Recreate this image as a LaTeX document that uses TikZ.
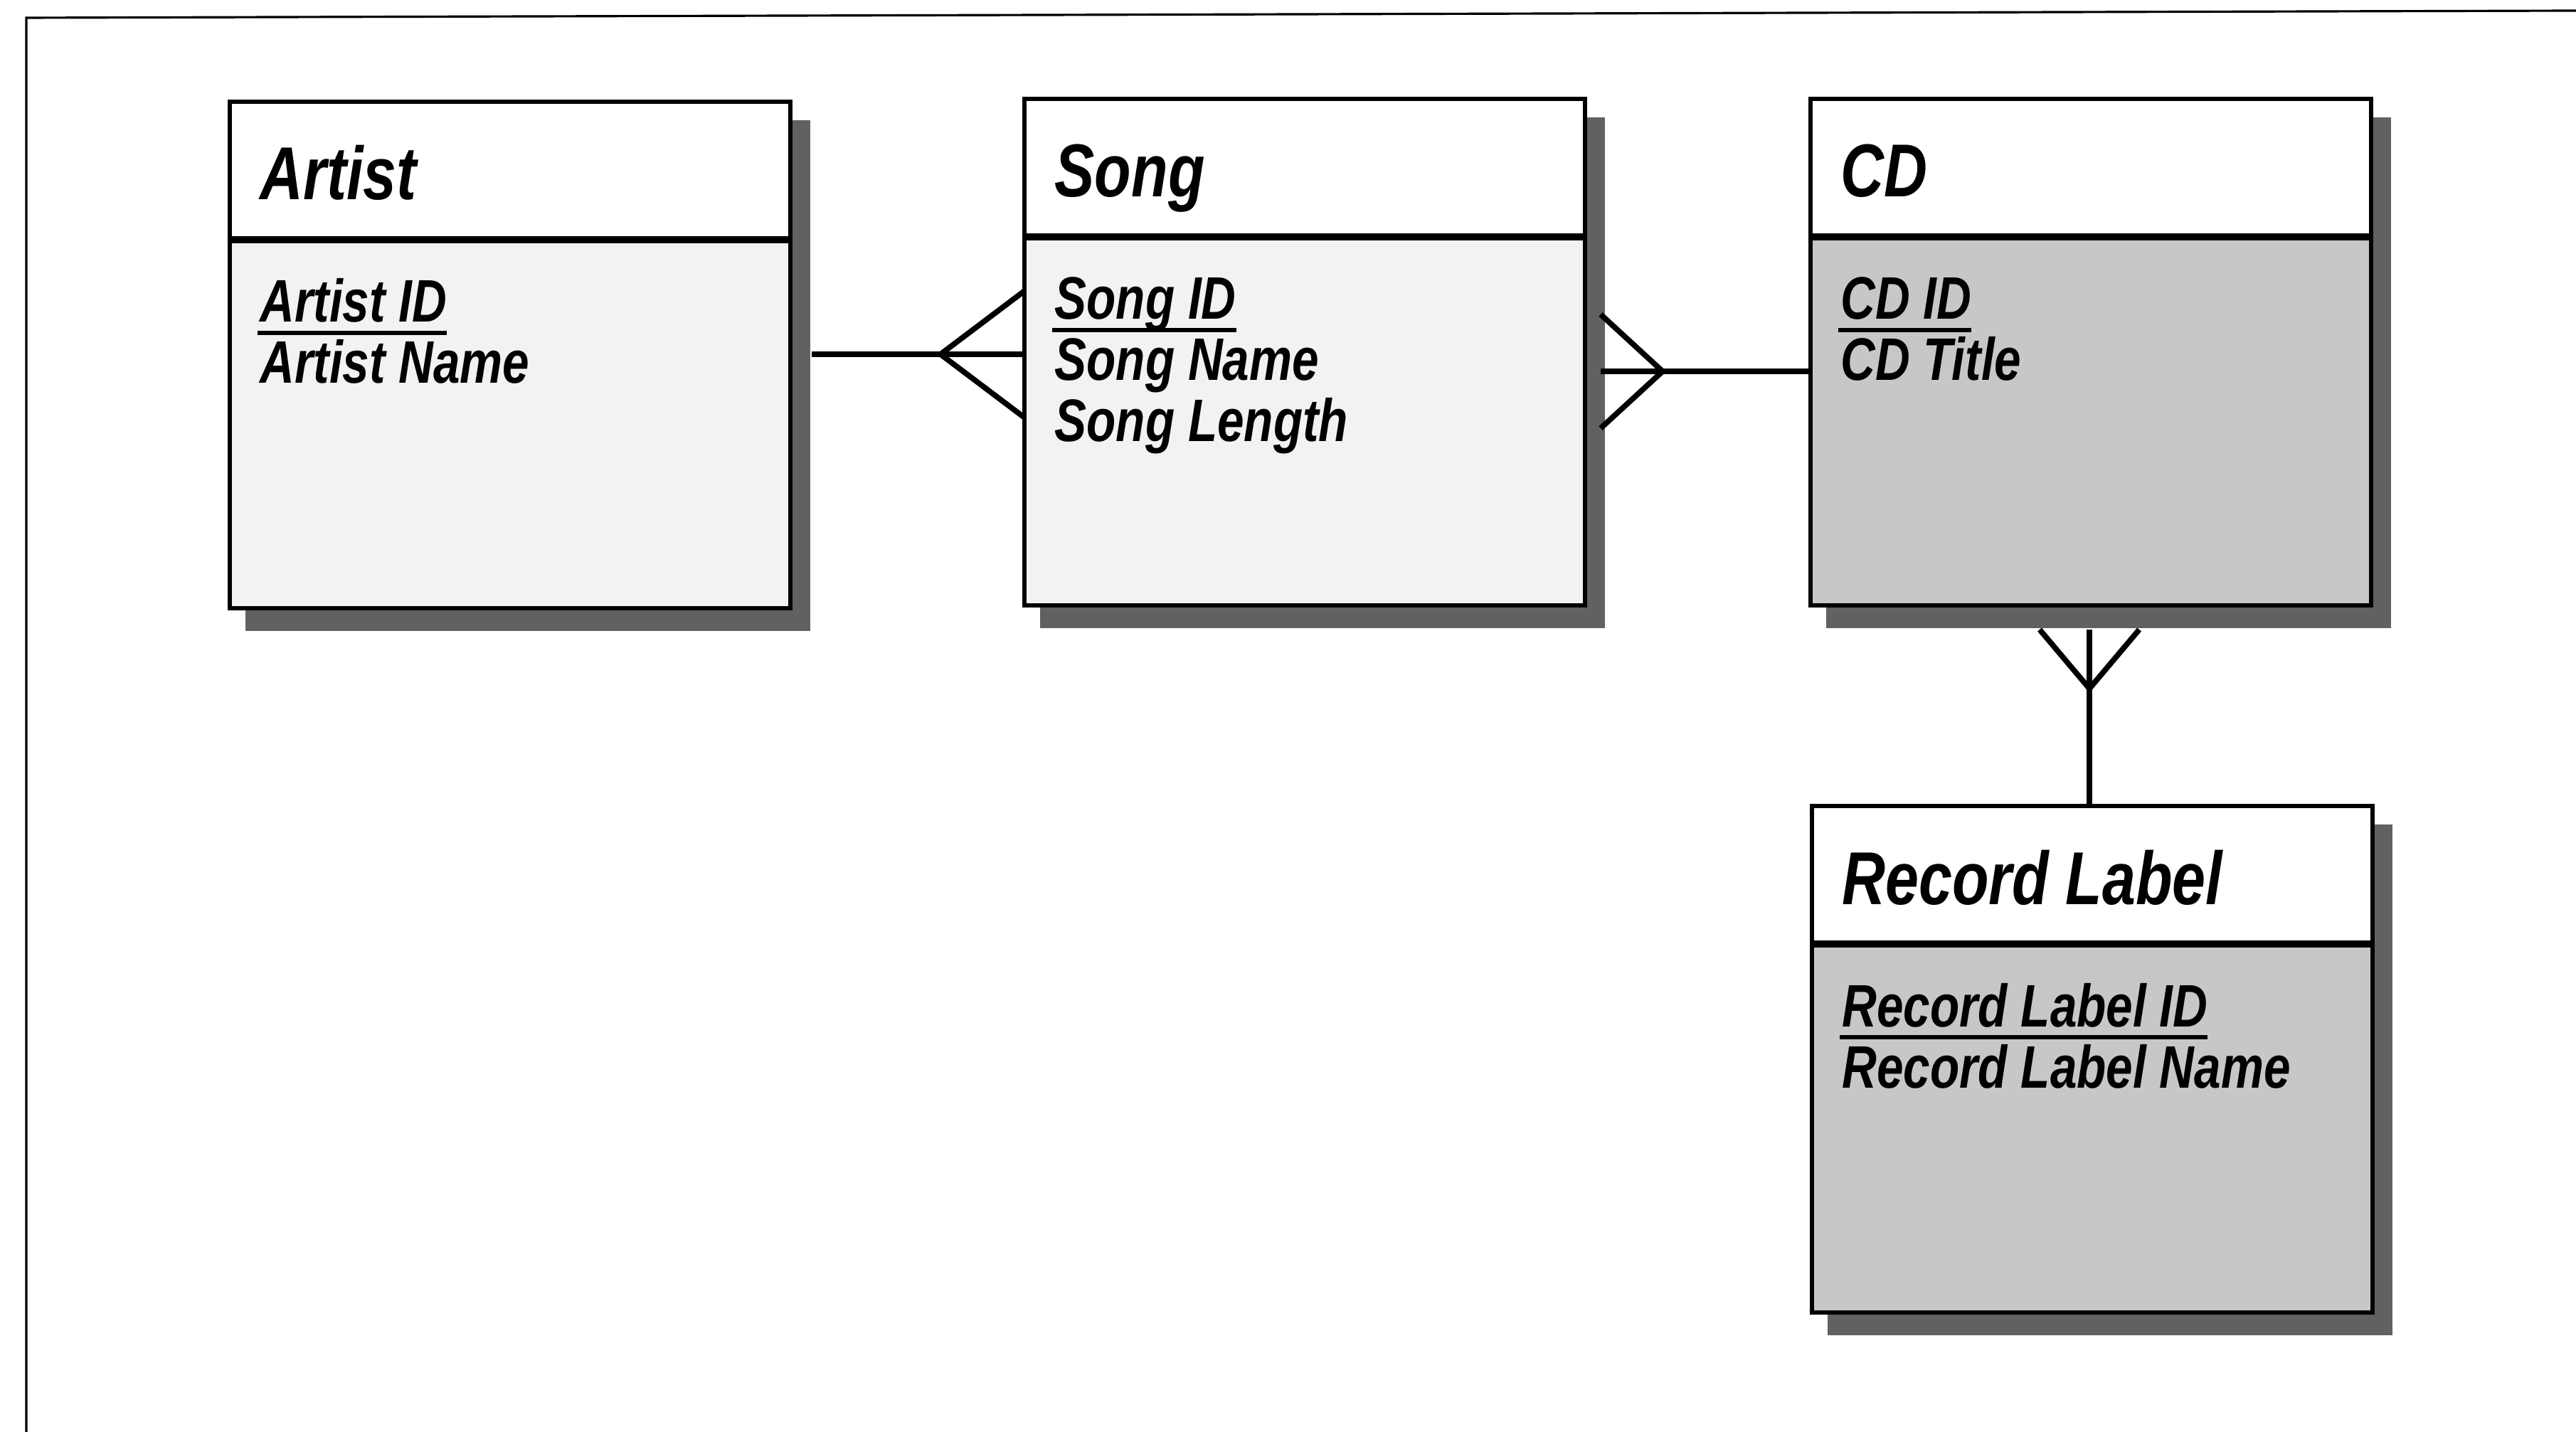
\documentclass[tikz,border=0pt]{standalone}
\usepackage{fontspec}
\setmainfont{Liberation Sans}[FakeStretch=0.8]
\usetikzlibrary{calc}

% primary key: text with a heavy underline
\newcommand{\pkey}[1]{\setbox0=\hbox{#1}\rlap{\kern-1pt\rule[-5pt]{\dimexpr\wd0+1pt\relax}{1.6pt}}\box0}

% entity box: #1 name, #2 x, #3 y (top), #4 body fill, #5 title, #6 attributes
\newcommand{\erbox}[6]{%
  \fill[shadow] ({#2+0.22},{#3-0.26}) rectangle ({#2+7.88+0.28},{#3-7.12-0.32});
  \node[entitybox, fill=#4, anchor=north west] (#1) at (#2,#3) {};
  \fill[white] (#1.north west) rectangle ($(#1.north east)+(0,-1.94)$);
  \draw[divider] ($(#1.north west)+(0,-1.94)$) -- ($(#1.north east)+(0,-1.94)$);
  \draw[boxline] (#1.north west) rectangle (#1.south east);
  \node[titletext, anchor=base west] (#1-title) at ($(#1.north west)+(0.42,-1.38)$) {#5};
  \foreach \a [count=\i] in {#6}{%
    \node[attrtext, anchor=base west] (#1-attr\i) at ($(#1.north west)+(0.42,{-3.1-(\i-1)*0.86})$) {\a};
  }%
}

\tikzset{
  entitybox/.style={draw=none, minimum width=7.88cm, minimum height=7.12cm, inner sep=0pt, outer sep=0pt},
  boxline/.style={line width=1.6pt},
  divider/.style={line width=2.6pt},
  shadow/.style={fill=black!62},
  link/.style={line width=2.2pt, line join=round},
  frameline/.style={line width=0.9pt},
  titletext/.style={font=\fontsize{30}{30}\selectfont\bfseries\itshape, inner sep=0pt},
  attrtext/.style={font=\fontsize{24}{24}\selectfont\bfseries\itshape, inner sep=0pt},
}

\begin{document}
\begin{tikzpicture}
  \useasboundingbox (0,0) rectangle (36.21,-20.13);
  % frame
  \draw[frameline] (0.37,-20.13) -- (0.37,-0.25) -- (36.21,-0.15);

  % entities
  \erbox{artist}{3.23}{-1.43}{black!5}{Artist}{\pkey{Artist ID}, Artist Name}
  \erbox{song}{14.40}{-1.39}{black!5}{Song}{\pkey{Song ID}, Song Name, Song Length}
  \erbox{cd}{25.45}{-1.39}{black!22}{CD}{\pkey{CD ID}, CD Title}
  \erbox{record}{25.47}{-11.33}{black!22}{Record Label}{\pkey{Record Label ID}, Record Label Name}

  % artist -- song
  \coordinate (as) at ($(song.north west)+(0,-3.59)$);
  \draw[link] ($(artist.east |- as)+(0.30,0)$) -- (as);
  \draw[link] ($(as)+(0,0.89)$) -- ++(-1.18,-0.89) -- ($(as)+(0,-0.89)$);

  % song -- cd
  \coordinate (sc) at ($(song.north east)+(0.22,-3.83)$);
  \draw[link] (sc) -- (cd.west |- sc);
  \draw[link] ($(sc)+(0,0.8)$) -- ++(0.87,-0.8) -- ($(sc)+(0,-0.8)$);

  % cd -- record
  \coordinate (cr) at ($(cd.south west)+(3.92,-0.34)$);
  \draw[link] (cr) -- (record.north -| cr);
  \draw[link] ($(cr)+(-0.7,0)$) -- ++(0.7,-0.83) -- ($(cr)+(0.7,0)$);
\end{tikzpicture}
\end{document}
